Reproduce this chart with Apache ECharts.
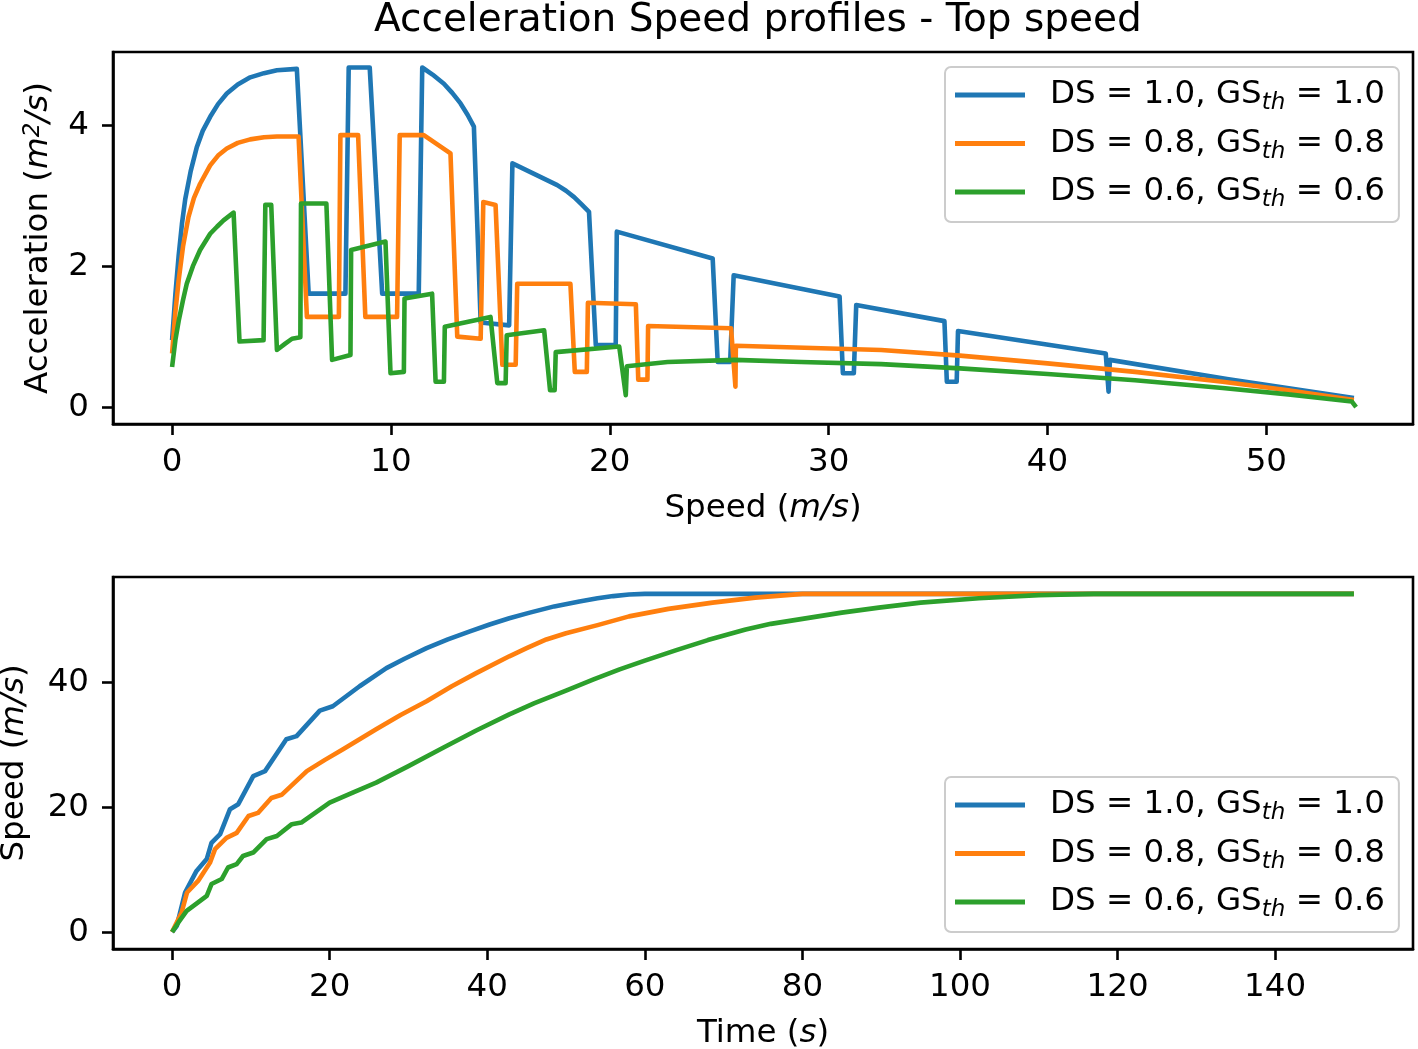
<!DOCTYPE html>
<html>
<head>
<meta charset="utf-8">
<script src="https://cdn.jsdelivr.net/npm/echarts@6/dist/echarts.min.js"></script>
<style>
html,body{margin:0;padding:0;background:#fff;}
#chart{width:1418px;height:1049px;}
</style>
</head>
<body>
<div id="chart"></div>
<script>
// ---------- DATA ----------
const dsLabels = ['1.0', '0.8', '0.6'];
const colors = ['#1f77b4', '#ff7f0e', '#2ca02c'];

// Top panel: [speed (m/s), acceleration]
const accelDS10 = [[0,0.95],[0.15,1.6],[0.3,2.15],[0.45,2.6],[0.6,2.95],[0.85,3.35],[1.13,3.69],[1.4,3.92],[1.74,4.12],[2.1,4.3],[2.5,4.45],[3.0,4.58],[3.57,4.68],[4.2,4.74],[4.79,4.78],[5.7,4.80],[6.24,1.61],[7.92,1.61],[8.07,4.82],[9.03,4.82],[9.6,1.61],[11.27,1.61],[11.43,4.82],[11.9,4.72],[12.42,4.59],[12.8,4.46],[13.18,4.31],[13.5,4.15],[13.79,3.98],[14.1,1.2],[15.4,1.16],[15.55,3.46],[16.54,3.31],[17.6,3.15],[18.0,3.07],[18.37,2.98],[18.7,2.88],[19.05,2.77],[19.36,0.88],[20.27,0.88],[20.32,2.49],[24.7,2.11],[24.93,0.64],[25.5,0.64],[25.66,1.87],[30.5,1.57],[30.65,0.48],[31.15,0.48],[31.26,1.45],[35.29,1.22],[35.4,0.36],[35.85,0.36],[35.91,1.08],[42.66,0.76],[42.79,0.22],[42.85,0.67],[48.2,0.40],[54.0,0.13]];
const accelDS08 = [[0,0.76],[0.15,1.35],[0.3,1.8],[0.5,2.28],[0.75,2.70],[1.0,2.97],[1.28,3.17],[1.74,3.43],[2.1,3.57],[2.5,3.67],[3.0,3.75],[3.57,3.80],[4.2,3.83],[4.79,3.84],[5.78,3.84],[6.16,1.28],[7.62,1.28],[7.69,3.86],[8.5,3.86],[8.83,1.28],[10.28,1.28],[10.4,3.86],[11.5,3.86],[12.72,3.60],[13.03,1.0],[14.1,0.97],[14.22,2.91],[14.78,2.87],[15.09,0.60],[15.7,0.60],[15.77,1.75],[18.2,1.75],[18.4,0.50],[18.95,0.50],[19.0,1.48],[21.19,1.46],[21.3,0.39],[21.72,0.39],[21.75,1.15],[25.54,1.12],[25.74,0.29],[25.76,0.87],[32.4,0.81],[36,0.73],[40,0.62],[44,0.50],[48,0.36],[51,0.24],[54.0,0.10]];
const accelDS06 = [[0,0.57],[0.15,0.95],[0.3,1.22],[0.5,1.52],[0.67,1.75],[0.95,2.0],[1.28,2.23],[1.74,2.46],[2.05,2.56],[2.35,2.65],[2.6,2.71],[2.81,2.76],[3.08,0.93],[4.18,0.95],[4.26,2.87],[4.53,2.87],[4.79,0.81],[5.17,0.90],[5.48,0.97],[5.86,0.99],[5.89,2.89],[7.05,2.89],[7.31,0.67],[8.15,0.74],[8.18,2.23],[9.75,2.35],[9.98,0.48],[10.59,0.50],[10.62,1.54],[11.88,1.61],[12.04,0.36],[12.42,0.36],[12.46,1.14],[14.55,1.28],[14.86,0.34],[15.24,0.34],[15.29,1.02],[17.0,1.09],[17.27,0.24],[17.48,0.24],[17.53,0.78],[20.43,0.86],[20.73,0.17],[20.78,0.58],[22.64,0.64],[25.7,0.67],[28.74,0.64],[32.4,0.61],[36,0.55],[40,0.47],[44,0.38],[48,0.27],[51,0.18],[53.9,0.08],[54.1,0.0]];

// Bottom panel: [time (s), speed (m/s)]
const speedDS10 = [[0,0],[0.6,1.0],[1.65,6.35],[3.1,9.8],[4.4,11.7],[5.0,14.3],[6.1,15.7],[7.35,19.7],[8.4,20.5],[10.3,25.0],[11.8,25.8],[14.5,30.9],[15.8,31.4],[18.75,35.5],[20.4,36.2],[23.8,39.4],[27.2,42.3],[29.5,43.8],[32.3,45.5],[35,46.9],[37.8,48.2],[40.3,49.3],[42.8,50.3],[45.4,51.2],[48.5,52.2],[51.7,53.0],[54,53.5],[56,53.85],[58,54.1],[60,54.2],[150,54.2]];
const speedDS08 = [[0,0],[1.2,3.1],[1.9,6.35],[3.3,8.2],[4.8,11.1],[5.45,13.3],[6.9,15.1],[8.2,15.9],[9.7,18.6],[10.9,19.1],[12.6,21.5],[13.9,22.0],[17.1,25.8],[19.4,27.6],[21.7,29.3],[23.8,30.9],[25.9,32.5],[29,34.8],[32.3,37.0],[35.5,39.4],[38.6,41.5],[42.8,44.2],[45,45.5],[47.5,46.9],[50,47.9],[54,49.2],[58,50.6],[63,51.8],[68.6,52.8],[74,53.6],[80,54.2],[150,54.2]];
const speedDS06 = [[0,0],[0.8,1.55],[1.85,3.4],[3.3,4.75],[4.4,5.8],[5.0,7.7],[6.3,8.5],[7.1,10.35],[8.2,10.9],[9.0,12.2],[10.3,12.75],[12.0,14.9],[13.3,15.4],[15.2,17.3],[16.4,17.55],[20.0,20.75],[23,22.4],[25.9,23.95],[30,26.6],[34.4,29.55],[38.6,32.3],[42.8,34.9],[46,36.7],[50,38.7],[53.5,40.5],[56.8,42.1],[60,43.5],[64,45.2],[68,46.8],[72.8,48.5],[76,49.4],[80,50.2],[85,51.2],[89.7,52.0],[95,52.8],[102.4,53.5],[110,54.0],[117,54.2],[150,54.2]];

// Tick labels
const topXTicks = [0, 10, 20, 30, 40, 50];
const topYTicks = [0, 2, 4];
const botXTicks = [0, 20, 40, 60, 80, 100, 120, 140];
const botYTicks = [0, 20, 40];

const titleText = 'Acceleration Speed profiles - Top speed';

// ---------- CHART ----------
const FONT = 'DejaVu Sans';
const FS = 32.5;
const chart = echarts.init(document.getElementById('chart'), null, {renderer: 'canvas'});

const accelSets = [accelDS10, accelDS08, accelDS06];
const speedSets = [speedDS10, speedDS08, speedDS06];

function axisCommon(ticks) {
  return {
    type: 'value',
    splitLine: {show: false},
    axisLine: {show: true, onZero: false, lineStyle: {color: '#000', width: 2.6}},
    axisTick: {show: true, inside: false, length: 11, customValues: ticks, lineStyle: {color: '#000', width: 2.6}},
    axisLabel: {
      customValues: ticks,
      color: '#000', fontFamily: FONT, fontSize: FS,
      formatter: v => (ticks.indexOf(Math.round(v * 1000) / 1000) >= 0 ? String(v) : '')
    },
    nameTextStyle: {color: '#000', fontFamily: FONT, fontSize: FS}
  };
}
const italic = {fontStyle: 'italic', fontFamily: FONT, fontSize: FS, color: '#000'};
const sup = {fontFamily: FONT, fontSize: 23, color: '#000', fontStyle: 'italic', verticalAlign: 'top', lineHeight: 23};

function mk(base, extra) {
  const o = Object.assign({}, base, extra);
  o.axisLabel = Object.assign({}, base.axisLabel, extra.axisLabel || {});
  o.nameTextStyle = Object.assign({}, base.nameTextStyle, extra.nameTextStyle || {});
  return o;
}

const xAxes = [
  mk(axisCommon(topXTicks), {gridIndex: 0, min: -2.7, max: 56.7, name: 'Speed ({i|m/s})', nameLocation: 'middle', nameGap: 68,
    axisLabel: {margin: 22}, nameTextStyle: {rich: {i: italic}}}),
  mk(axisCommon(botXTicks), {gridIndex: 1, min: -7.5, max: 157.5, name: 'Time ({i|s})', nameLocation: 'middle', nameGap: 68,
    axisLabel: {margin: 22}, nameTextStyle: {rich: {i: italic}}})
];
const yAxes = [
  mk(axisCommon(topYTicks), {gridIndex: 0, min: -0.24, max: 5.04, name: 'Acceleration ({i|m}{s|2}{i|/s})', nameLocation: 'middle', nameGap: 58,
    axisLabel: {margin: 24}, nameTextStyle: {rich: {i: italic, s: sup}}}),
  mk(axisCommon(botYTicks), {gridIndex: 1, min: -2.71, max: 56.91, name: 'Speed ({i|m/s})', nameLocation: 'middle', nameGap: 82,
    axisLabel: {margin: 24}, nameTextStyle: {rich: {i: italic}}})
];

const series = [];
dsLabels.forEach((ds, i) => {
  series.push({
    name: ds, type: 'line', xAxisIndex: 0, yAxisIndex: 0, data: accelSets[i],
    showSymbol: false, symbol: 'none', animation: false,
    lineStyle: {color: colors[i], width: 4.6, join: 'round'}, itemStyle: {color: colors[i]}, z: 3 + i
  });
});
dsLabels.forEach((ds, i) => {
  series.push({
    name: ds, type: 'line', xAxisIndex: 1, yAxisIndex: 1, data: speedSets[i],
    showSymbol: false, symbol: 'none', animation: false,
    lineStyle: {color: colors[i], width: 4.6, join: 'round'}, itemStyle: {color: colors[i]}, z: 3 + i
  });
});

function legendAt(top) {
  return {
    orient: 'vertical', left: 945, top: top,
    data: dsLabels,
    icon: 'rect', itemWidth: 70, itemHeight: 5, itemGap: 8.5,
    padding: [8, 14, 10, 10],
    backgroundColor: 'rgba(255,255,255,0.8)',
    borderColor: '#cccccc', borderWidth: 2, borderRadius: 6,
    selectedMode: false,
    formatter: name => '{g|}DS = ' + name + ', GS{sub|th} = ' + name,
    textStyle: {
      color: '#000', fontFamily: FONT, fontSize: FS, lineHeight: 40,
      rich: {
        g: {width: 20},
        sub: {fontFamily: FONT, fontSize: 23, fontStyle: 'italic', color: '#000', verticalAlign: 'bottom', lineHeight: 23}
      }
    }
  };
}

const gridBase = {left: 113, width: 1300, height: 372, show: true, borderColor: '#000', borderWidth: 2.6,
  backgroundColor: 'transparent', containLabel: false, outerBoundsMode: 'none'};

chart.setOption({
  animation: false,
  backgroundColor: '#fff',
  title: {
    text: titleText, left: 374, top: 1, padding: 0,
    textStyle: {color: '#000', fontFamily: FONT, fontSize: 39, fontWeight: 'normal'}
  },
  grid: [
    Object.assign({}, gridBase, {top: 52}),
    Object.assign({}, gridBase, {top: 577})
  ],
  legend: [legendAt(67), legendAt(777)],
  xAxis: xAxes,
  yAxis: yAxes,
  series: series
});
</script>
</body>
</html>
